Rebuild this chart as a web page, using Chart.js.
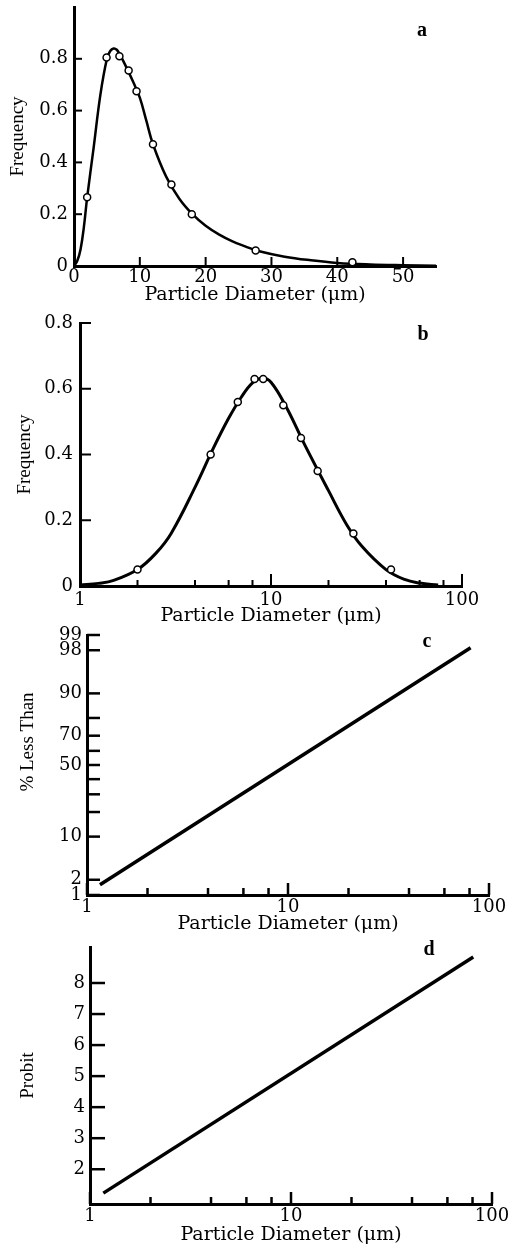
<!DOCTYPE html>
<html>
<head>
<meta charset="utf-8">
<script src="https://cdn.jsdelivr.net/npm/chart.js@4.4.1/dist/chart.umd.min.js"></script>
<style>
html, body { margin: 0; padding: 0; background: #fff; }
#wrap { position: relative; width: 513px; height: 1250px; overflow: hidden; }
canvas { position: absolute; left: 0; }
</style>
</head>
<body>
<div id="wrap">
<canvas id="chartA" width="513" height="312" style="top:0px"></canvas>
<canvas id="chartB" width="513" height="330" style="top:300px"></canvas>
<canvas id="chartC" width="513" height="322" style="top:618px"></canvas>
<canvas id="chartD" width="513" height="320" style="top:930px"></canvas>
</div>
<script>
// panel a: frequency vs diameter (linear)
const curveAx = [0, 0.5, 1, 1.5, 2, 3, 4, 5, 5.5, 6, 6.5, 7, 8, 9, 10, 11, 12, 14, 16, 18, 20, 22, 24, 26, 28, 32, 36, 40, 45, 50, 55];
const curveAy = [0, 0.02, 0.065, 0.15, 0.265, 0.46, 0.66, 0.80, 0.83, 0.84, 0.835, 0.815, 0.765, 0.71, 0.65, 0.56, 0.47, 0.345, 0.26, 0.2, 0.155, 0.122, 0.096, 0.076, 0.058, 0.036, 0.022, 0.012, 0.006, 0.003, 0.001];
const pointsAx = [2.0, 4.95, 6.9, 8.3, 9.5, 12.0, 14.8, 17.9, 27.6, 42.3];
const pointsAy = [0.265, 0.805, 0.81, 0.755, 0.675, 0.47, 0.315, 0.2, 0.06, 0.014];
const xTicksA = [0, 10, 20, 30, 40, 50];
const yTicksA = [0, 0.2, 0.4, 0.6, 0.8];
const yLabelsA = ['0', '0.2', '0.4', '0.6', '0.8'];

// panel b: frequency vs diameter (log)
const curveBx = [1, 1.25, 1.5, 2, 2.5, 3, 4, 5, 6, 7, 8, 9, 10, 12, 15, 20, 25, 30, 40, 50, 60, 75];
const curveBy = [0.003, 0.008, 0.017, 0.05, 0.10, 0.16, 0.30, 0.42, 0.51, 0.575, 0.618, 0.633, 0.62, 0.545, 0.43, 0.29, 0.185, 0.12, 0.05, 0.02, 0.009, 0.003];
const pointsBx = [2.0, 4.83, 6.7, 8.2, 9.1, 11.6, 14.35, 17.55, 27, 42.5];
const pointsBy = [0.05, 0.40, 0.56, 0.63, 0.63, 0.55, 0.45, 0.35, 0.16, 0.05];
const yTicksB = [0, 0.2, 0.4, 0.6, 0.8];
const yLabelsB = ['0', '0.2', '0.4', '0.6', '0.8'];

// shared log diameter axis (b, c, d)
const xTicksLog = [1, 2, 4, 6, 8, 10, 20, 40, 60, 80, 100];
const xLabelsLog = ['1', '', '', '', '', '10', '', '', '', '', '100'];

// panel c: cumulative % less than (probability scale)
const lineCx = [1.16, 81];
const lineCpct = [1.6, 98.2];
const pctTicks = [1, 2, 10, 20, 30, 40, 50, 60, 70, 80, 90, 98, 99];
const pctLabels = ['1', '2', '10', '', '', '', '50', '', '70', '', '90', '98', '99'];

// panel d: probit
const lineDx = [1.165, 80.7];
const lineDy = [1.23, 8.84];
const yTicksD = [2, 3, 4, 5, 6, 7, 8];

// inverse normal cdf, percent -> z
function probit(p) {
  const q = p / 100;
  const a = [-3.969683028665376e+01, 2.209460984245205e+02, -2.759285104469687e+02, 1.383577518672690e+02, -3.066479806614716e+01, 2.506628277459239e+00];
  const b = [-5.447609879822406e+01, 1.615858368580409e+02, -1.556989798598866e+02, 6.680131188771972e+01, -1.328068155288572e+01];
  const c = [-7.784894002430293e-03, -3.223964580411365e-01, -2.400758277161838e+00, -2.549732539343734e+00, 4.374664141464968e+00, 2.938163982698783e+00];
  const d = [7.784695709041462e-03, 3.224671290700398e-01, 2.445134137142996e+00, 3.754408661907416e+00];
  const lo = 0.02425;
  let r;
  if (q < lo) {
    r = Math.sqrt(-2 * Math.log(q));
    return (((((c[0]*r+c[1])*r+c[2])*r+c[3])*r+c[4])*r+c[5]) / ((((d[0]*r+d[1])*r+d[2])*r+d[3])*r+1);
  }
  if (q > 1 - lo) {
    r = Math.sqrt(-2 * Math.log(1 - q));
    return -(((((c[0]*r+c[1])*r+c[2])*r+c[3])*r+c[4])*r+c[5]) / ((((d[0]*r+d[1])*r+d[2])*r+d[3])*r+1);
  }
  r = q - 0.5;
  const s = r * r;
  return (((((a[0]*s+a[1])*s+a[2])*s+a[3])*s+a[4])*s+a[5])*r / (((((b[0]*s+b[1])*s+b[2])*s+b[3])*s+b[4])*s+1);
}

const SERIF = "'DejaVu Serif', serif";
const TIMES = "'Liberation Serif', serif";
const W = 513;

// ticks drawn inside the plot, like the original figure
const innerTicks = {
  id: 'innerTicks',
  afterDatasetsDraw(chart, args, opts) {
    const ctx = chart.ctx, area = chart.chartArea;
    const xs = chart.scales.x, ys = chart.scales.y;
    ctx.save();
    ctx.strokeStyle = '#000';
    ctx.lineWidth = opts.width;
    xs.ticks.forEach(t => {
      const px = xs.getPixelForValue(t.value);
      const len = t.big ? opts.xMajor : opts.xMinor;
      ctx.beginPath();
      ctx.moveTo(px, area.bottom);
      ctx.lineTo(px, area.bottom - len);
      ctx.stroke();
    });
    ys.ticks.forEach(t => {
      const py = ys.getPixelForValue(t.value);
      ctx.beginPath();
      ctx.moveTo(area.left, py);
      ctx.lineTo(area.left + opts.yLen, py);
      ctx.stroke();
    });
    ctx.restore();
  }
};

const panelText = {
  id: 'panelText',
  afterDraw(chart, args, opts) {
    const ctx = chart.ctx, area = chart.chartArea;
    (opts.items || []).forEach(it => {
      ctx.save();
      ctx.font = it.font;
      ctx.fillStyle = '#000';
      ctx.textAlign = 'center';
      ctx.textBaseline = 'middle';
      ctx.translate(it.fromRight ? area.right + it.dx : area.left + it.dx, area.top + it.dy);
      if (it.rotate) ctx.rotate(it.rotate);
      ctx.fillText(it.text, 0, 0);
      ctx.restore();
    });
  }
};

function pts(xs, ys) {
  return xs.map((x, i) => ({ x: x, y: ys[i] }));
}

function makeChart(id, H, area, cfg) {
  const xAxis = Object.assign({
    grid: { display: false, drawTicks: false },
    border: { color: '#000', width: 3 },
    afterFit: s => { s.height = H - area.bottom; s.paddingLeft = 0; s.paddingRight = 0; },
    title: { display: true, text: 'Particle Diameter (\u03bcm)', color: '#000',
      font: { family: SERIF, size: 19 }, padding: { top: 0, bottom: cfg.xTitlePad } }
  }, cfg.x);
  xAxis.ticks = Object.assign({ color: '#000', font: { family: SERIF, size: 18 }, autoSkip: false, maxRotation: 0 }, cfg.x.ticks);

  const yAxis = Object.assign({
    grid: { display: false, drawTicks: false },
    border: { color: '#000', width: 3 },
    afterFit: s => { s.width = area.left; s.paddingTop = 0; s.paddingBottom = 0; },
    title: cfg.yTitle ? { display: true, text: cfg.yTitle, color: '#000',
      font: { family: TIMES, size: 19 }, padding: { top: cfg.yTitlePad, bottom: 0 } } : { display: false }
  }, cfg.y);
  yAxis.ticks = Object.assign({ color: '#000', font: { family: SERIF, size: 18 }, autoSkip: false }, cfg.y.ticks);

  return new Chart(document.getElementById(id), {
    type: 'line',
    data: { datasets: cfg.datasets },
    options: {
      responsive: false,
      animation: false,
      events: [],
      layout: { padding: { left: 0, top: area.top, right: W - area.right, bottom: 0 } },
      plugins: {
        legend: { display: false },
        tooltip: { enabled: false },
        innerTicks: cfg.innerTicks,
        panelText: { items: cfg.texts }
      },
      scales: { x: xAxis, y: yAxis }
    },
    plugins: [innerTicks, panelText]
  });
}

const markerStyle = {
  showLine: false, pointRadius: 3.5, pointBorderWidth: 1.5,
  pointBackgroundColor: '#fff', pointBorderColor: '#000'
};
const curveStyle = {
  pointRadius: 0, borderColor: '#000', tension: 0.4, fill: false
};

const logTicks = s => { s.ticks = xTicksLog.map((v, i) => ({ value: v, big: xLabelsLog[i] !== '' })); };
const logLabel = (v, i) => xLabelsLog[i];
const letterFont = "bold 20px " + TIMES;

// a
makeChart('chartA', 312, { left: 74, right: 436, top: 7, bottom: 266 }, {
  datasets: [
    Object.assign({ data: pts(pointsAx, pointsAy) }, markerStyle),
    Object.assign({ data: pts(curveAx, curveAy), borderWidth: 2.5 }, curveStyle)
  ],
  x: { type: 'linear', min: 0, max: 55,
    afterBuildTicks: s => { s.ticks = xTicksA.map(v => ({ value: v, big: true })); },
    ticks: { padding: 1, callback: v => String(v) } },
  y: { type: 'linear', min: 0, max: 1,
    afterBuildTicks: s => { s.ticks = yTicksA.map(v => ({ value: v })); },
    ticks: { padding: 6, callback: (v, i) => yLabelsA[i] } },
  xTitlePad: 6, yTitle: 'Frequency', yTitlePad: 7,
  innerTicks: { width: 2, xMajor: 9, xMinor: 9, yLen: 8 },
  texts: [{ text: 'a', font: letterFont, fromRight: true, dx: -14, dy: 24 }]
});

// b
makeChart('chartB', 330, { left: 80, right: 462, top: 23, bottom: 286 }, {
  datasets: [
    Object.assign({ data: pts(pointsBx, pointsBy) }, markerStyle),
    Object.assign({ data: pts(curveBx, curveBy), borderWidth: 3 }, curveStyle)
  ],
  x: { type: 'logarithmic', min: 1, max: 100, afterBuildTicks: logTicks,
    ticks: { padding: 4, callback: logLabel } },
  y: { type: 'linear', min: 0, max: 0.8,
    afterBuildTicks: s => { s.ticks = yTicksB.map(v => ({ value: v })); },
    ticks: { padding: 7, callback: (v, i) => yLabelsB[i] } },
  xTitlePad: 3, yTitle: 'Frequency', yTitlePad: 14,
  innerTicks: { width: 2, xMajor: 12, xMinor: 6, yLen: 11 },
  texts: [{ text: 'b', font: letterFont, fromRight: true, dx: -39, dy: 12 }]
});

// c
makeChart('chartC', 322, { left: 87, right: 489, top: 17, bottom: 277 }, {
  datasets: [
    { data: pts(lineCx, lineCpct.map(probit)), borderColor: '#000', borderWidth: 3.5, pointRadius: 0 }
  ],
  x: { type: 'logarithmic', min: 1, max: 100, afterBuildTicks: logTicks,
    ticks: { padding: 2, callback: logLabel } },
  y: { type: 'linear', min: probit(1), max: probit(99),
    afterBuildTicks: s => { s.ticks = pctTicks.map(p => ({ value: probit(p) })); },
    ticks: { padding: 5, callback: (v, i) => pctLabels[i] } },
  xTitlePad: 5, yTitle: null,
  innerTicks: { width: 2.5, xMajor: 12, xMinor: 7, yLen: 13 },
  texts: [
    { text: 'c', font: letterFont, fromRight: true, dx: -62, dy: 7 },
    { text: '% Less Than', font: "19px " + TIMES, dx: -59, dy: 107, rotate: -Math.PI / 2 }
  ]
});

// d
makeChart('chartD', 320, { left: 90, right: 492, top: 17, bottom: 274 }, {
  datasets: [
    { data: pts(lineDx, lineDy), borderColor: '#000', borderWidth: 3.5, pointRadius: 0 }
  ],
  x: { type: 'logarithmic', min: 1, max: 100, afterBuildTicks: logTicks,
    ticks: { padding: 2, callback: logLabel } },
  y: { type: 'linear', min: 0.88, max: 9.16,
    afterBuildTicks: s => { s.ticks = yTicksD.map(v => ({ value: v })); },
    ticks: { padding: 5, callback: v => String(v) } },
  xTitlePad: 4, yTitle: 'Probit', yTitlePad: 17,
  innerTicks: { width: 2.5, xMajor: 12, xMinor: 7, yLen: 15 },
  texts: [{ text: 'd', font: letterFont, fromRight: true, dx: -63, dy: 3 }]
});
</script>
</body>
</html>
